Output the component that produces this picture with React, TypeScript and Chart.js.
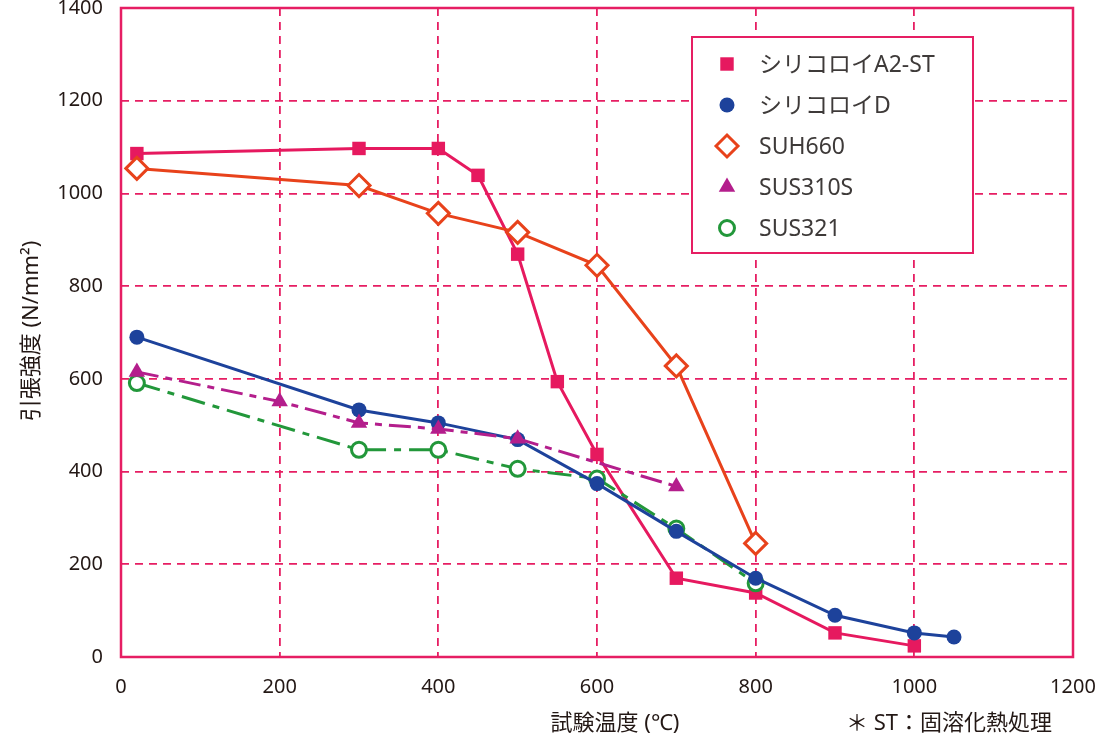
import { useEffect, useRef } from "react";
import { Chart, registerables } from "chart.js";

Chart.register(...registerables);

const FONT = '"Noto Sans", "Noto Sans CJK JP", sans-serif';
const FRAME = "#E61E63";
const TEXT = "#3E3A39";

// test temperature (°C) / tensile strength (N/mm²)
const a2stTemp = [20, 300, 400, 450, 500, 550, 600, 700, 800, 900, 1000];
const a2stValues = [1086, 1097, 1097, 1039, 869, 594, 437, 170, 138, 52, 24];

const dTemp = [20, 300, 400, 500, 600, 700, 800, 900, 1000, 1050];
const dValues = [690, 533, 505, 469, 374, 271, 170, 90, 52, 43];

const suh660Temp = [20, 300, 400, 500, 600, 700, 800];
const suh660Values = [1054, 1017, 957, 916, 845, 628, 245];

const sus310Temp = [20, 200, 300, 400, 500, 700];
const sus310Values = [615, 551, 505, 492, 471, 368];

const sus321Temp = [20, 300, 400, 500, 600, 700, 800];
const sus321Values = [591, 447, 447, 406, 385, 277, 159];

const xTicks = [0, 200, 400, 600, 800, 1000, 1200];
const yTicks = [0, 200, 400, 600, 800, 1000, 1200, 1400];

const toPoints = (xs: number[], ys: number[]) => xs.map((x, i) => ({ x, y: ys[i] }));

interface SeriesStyle {
  label: string;
  color: string;
  pointStyle: "rect" | "circle" | "rectRot" | "triangle";
  radius: number;
  filled: boolean;
  dash: number[];
}

const SERIES: SeriesStyle[] = [
  { label: "シリコロイA2-ST", color: "#E6195F", pointStyle: "rect", radius: 9.5, filled: true, dash: [] },
  { label: "シリコロイD", color: "#1D429B", pointStyle: "circle", radius: 7.5, filled: true, dash: [] },
  { label: "SUH660", color: "#E8421B", pointStyle: "rectRot", radius: 11, filled: false, dash: [] },
  { label: "SUS310S", color: "#B41E8C", pointStyle: "triangle", radius: 9.5, filled: true, dash: [22, 7, 7, 7] },
  { label: "SUS321", color: "#22973A", pointStyle: "circle", radius: 7.5, filled: false, dash: [24, 8, 7, 8] },
];

const seriesData = [
  toPoints(a2stTemp, a2stValues),
  toPoints(dTemp, dValues),
  toPoints(suh660Temp, suh660Values),
  toPoints(sus310Temp, sus310Values),
  toPoints(sus321Temp, sus321Values),
];

// bottom-to-top stacking seen in the picture
const DRAW_ORDER = [5, 3, 1, 2, 4];

function drawMarker(ctx: CanvasRenderingContext2D, s: SeriesStyle, x: number, y: number) {
  const r = s.radius;
  ctx.save();
  ctx.beginPath();
  if (s.pointStyle === "rect") {
    const h = Math.SQRT1_2 * r;
    ctx.rect(x - h, y - h, 2 * h, 2 * h);
  } else if (s.pointStyle === "circle") {
    ctx.arc(x, y, r, 0, Math.PI * 2);
  } else if (s.pointStyle === "rectRot") {
    ctx.moveTo(x - r, y);
    ctx.lineTo(x, y - r);
    ctx.lineTo(x + r, y);
    ctx.lineTo(x, y + r);
    ctx.closePath();
  } else {
    const a = -Math.PI / 2;
    for (let k = 0; k < 3; k++) {
      const ang = a + (k * 2 * Math.PI) / 3;
      const px = x + Math.cos(ang) * r;
      const py = y + Math.sin(ang) * r;
      if (k === 0) ctx.moveTo(px, py);
      else ctx.lineTo(px, py);
    }
    ctx.closePath();
  }
  ctx.fillStyle = s.filled ? s.color : "#ffffff";
  ctx.fill();
  if (!s.filled) {
    ctx.lineWidth = 3;
    ctx.strokeStyle = s.color;
    ctx.stroke();
  }
  ctx.restore();
}

const decorPlugin = {
  id: "decor",
  afterDatasetsDraw(chart: Chart) {
    const { ctx, chartArea: a } = chart;
    ctx.save();
    // frame
    ctx.strokeStyle = FRAME;
    ctx.lineWidth = 2.5;
    ctx.strokeRect(a.left, a.top, a.right - a.left, a.bottom - a.top);

    // legend box
    const bx = 692, by = 37, bw = 281, bh = 216;
    ctx.fillStyle = "#ffffff";
    ctx.fillRect(bx, by, bw, bh);
    ctx.lineWidth = 2;
    ctx.strokeRect(bx, by, bw, bh);
    ctx.font = `23px ${FONT}`;
    ctx.textBaseline = "middle";
    ctx.textAlign = "left";
    SERIES.forEach((s, i) => {
      const y = 64 + i * 41;
      drawMarker(ctx, s, 727, y);
      ctx.fillStyle = TEXT;
      ctx.fillText(s.label, 759, y + 1);
    });

    // axis titles and note
    ctx.fillStyle = "#231815";
    ctx.font = `22px ${FONT}`;
    ctx.textAlign = "center";
    ctx.fillText("試験温度 (℃)", 615, 724);
    ctx.textAlign = "left";
    ctx.fillText("＊ ST：固溶化熱処理", 846, 724);

    ctx.translate(32, 331);
    ctx.rotate(-Math.PI / 2);
    ctx.textAlign = "center";
    ctx.fillText("引張強度 (N/mm²)", 0, 0);
    ctx.restore();
  },
};

export default function App() {
  const canvasRef = useRef<HTMLCanvasElement>(null);
  const chartRef = useRef<Chart | null>(null);

  useEffect(() => {
    document.body.style.margin = "0";
    if (!canvasRef.current) return;
    if (chartRef.current) chartRef.current.destroy();

    chartRef.current = new Chart(canvasRef.current, {
      type: "line",
      data: {
        datasets: SERIES.map((s, i) => ({
          label: s.label,
          data: seriesData[i],
          borderColor: s.color,
          borderWidth: 3,
          borderDash: s.dash,
          pointStyle: s.pointStyle,
          pointRadius: s.radius,
          pointHoverRadius: s.radius,
          pointBackgroundColor: s.filled ? s.color : "#ffffff",
          pointBorderColor: s.color,
          pointBorderWidth: s.filled ? 0 : 3,
          fill: false,
          tension: 0,
          order: DRAW_ORDER[i],
        })),
      },
      options: {
        animation: false,
        responsive: false,
        devicePixelRatio: 1,
        layout: { autoPadding: false, padding: { top: 8, right: 25, left: 0, bottom: 0 } },
        plugins: {
          legend: { display: false },
          tooltip: { enabled: false },
        },
        scales: {
          x: {
            type: "linear",
            min: 0,
            max: 1200,
            afterBuildTicks: (s) => {
              s.ticks = xTicks.map((v) => ({ value: v }));
            },
            afterFit: (s) => {
              s.height = 84;
              s.paddingLeft = 0;
              s.paddingRight = 0;
            },
            grid: { color: FRAME, lineWidth: 1.8, drawTicks: false },
            border: { display: false, dash: [8, 6] },
            ticks: {
              padding: 18,
              color: "#231815",
              font: { family: FONT, size: 20 },
              maxRotation: 0,
              callback: (v) => String(v),
            },
          },
          y: {
            type: "linear",
            min: 0,
            max: 1400,
            afterBuildTicks: (s) => {
              s.ticks = yTicks.map((v) => ({ value: v }));
            },
            afterFit: (s) => {
              s.width = 121;
              s.paddingTop = 0;
              s.paddingBottom = 0;
            },
            grid: { color: FRAME, lineWidth: 1.8, drawTicks: false },
            border: { display: false, dash: [8, 6] },
            ticks: {
              padding: 18,
              color: "#231815",
              font: { family: FONT, size: 20 },
              callback: (v) => String(v),
            },
          },
        },
      },
      plugins: [decorPlugin],
    });

    return () => {
      chartRef.current?.destroy();
      chartRef.current = null;
    };
  }, []);

  return (
    <div style={{ width: 1098, height: 741, background: "#ffffff" }}>
      <canvas ref={canvasRef} width={1098} height={741} />
    </div>
  );
}
